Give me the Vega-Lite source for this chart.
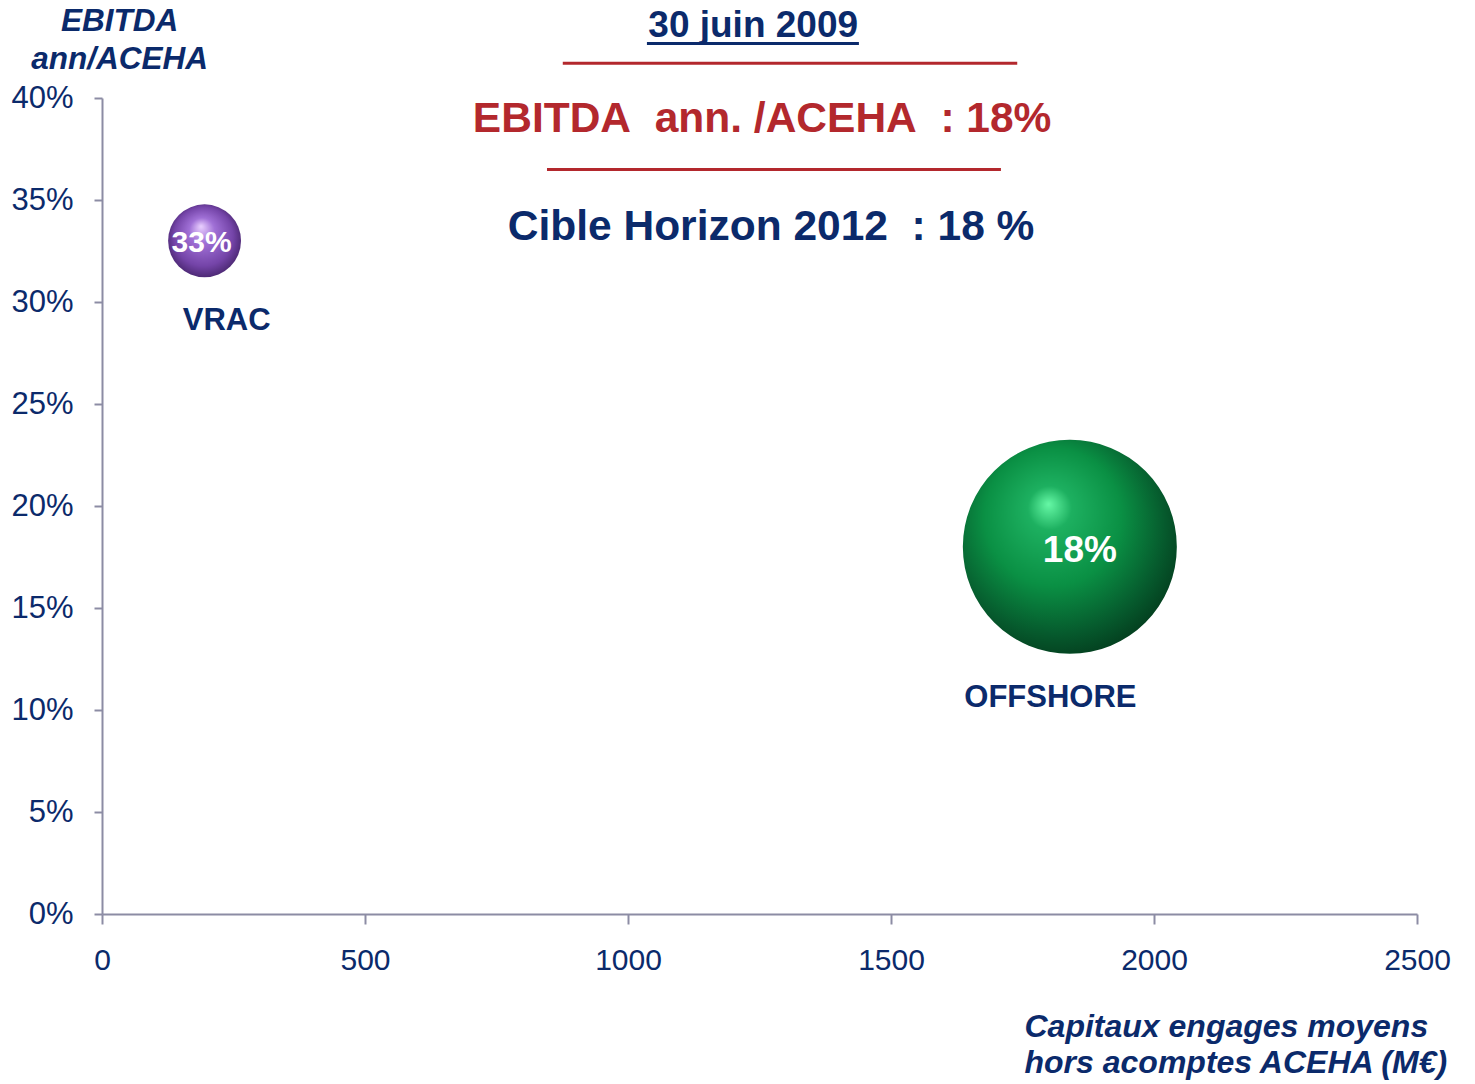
{
  "$schema": "https://vega.github.io/schema/vega-lite/v6.json",
  "width": 1315,
  "height": 816,
  "autosize": {"type": "none"},
  "padding": {"left": 102, "top": 98, "right": 58, "bottom": 170},
  "background": "white",
  "config": {"view": {"stroke": null}, "font": "Liberation Sans"},
  "datasets": {
    "bulles": [
      {"activite": "VRAC", "capitaux": 195, "ebitda": 0.33, "taille": 11.6, "etiquette": "33%"},
      {"activite": "OFFSHORE", "capitaux": 1840, "ebitda": 0.18, "taille": 100, "etiquette": "18%"}
    ],
    "noms": [
      {"texte": "VRAC", "capitaux": 237, "ebitda": 0.2863},
      {"texte": "OFFSHORE", "capitaux": 1803, "ebitda": 0.1015}
    ],
    "titres": [
      {"texte": "30 juin 2009", "capitaux": 1238, "ebitda": 0.4299, "role": "date"},
      {"texte": "EBITDA\u00a0 ann. /ACEHA\u00a0 : 18%", "capitaux": 1255, "ebitda": 0.3833, "role": "ebitda"},
      {"texte": "Cible Horizon 2012\u00a0 : 18 %", "capitaux": 1272, "ebitda": 0.3304, "role": "cible"}
    ],
    "traits": [
      {"capitaux": 1036, "capitaux_fin": 1439, "ebitda": 0.4267, "role": "souligne"},
      {"capitaux": 876, "capitaux_fin": 1740, "ebitda": 0.4170, "role": "rouge"},
      {"capitaux": 846, "capitaux_fin": 1709, "ebitda": 0.3650, "role": "rouge"}
    ]
  },
  "encoding": {
    "x": {
      "field": "capitaux", "type": "quantitative",
      "scale": {"domain": [0, 2500], "nice": false, "zero": true},
      "axis": {
        "values": [0, 500, 1000, 1500, 2000, 2500],
        "format": "d",
        "grid": false,
        "domainColor": "#8c8ca4", "domainWidth": 2,
        "tickColor": "#8c8ca4", "tickWidth": 2, "tickSize": 10,
        "labelFont": "Liberation Sans", "labelFontSize": 30, "labelColor": "#0b2a6b",
        "labelPadding": 21, "labelFlush": false,
        "title": ["Capitaux engages moyens", "hors acomptes ACEHA (M€)"],
        "titleFont": "Liberation Sans", "titleFontSize": 32, "titleFontStyle": "italic", "titleFontWeight": "bold",
        "titleColor": "#0b2a6b", "titleAlign": "left", "titleAnchor": null,
        "titleX": 922, "titleY": 122, "titleBaseline": "alphabetic", "titleLineHeight": 36
      }
    },
    "y": {
      "field": "ebitda", "type": "quantitative",
      "scale": {"domain": [0, 0.4], "nice": false, "zero": true},
      "axis": {
        "values": [0, 0.05, 0.1, 0.15, 0.2, 0.25, 0.3, 0.35, 0.4],
        "format": ".0%",
        "grid": false,
        "domainColor": "#8c8ca4", "domainWidth": 2,
        "tickColor": "#8c8ca4", "tickWidth": 2, "tickSize": 8,
        "labelFont": "Liberation Sans", "labelFontSize": 31, "labelColor": "#0b2a6b",
        "labelPadding": 21, "labelFlush": false,
        "title": ["EBITDA", "ann/ACEHA"],
        "titleFont": "Liberation Sans", "titleFontSize": 31.5, "titleFontStyle": "italic", "titleFontWeight": "bold",
        "titleColor": "#0b2a6b", "titleAngle": 0, "titleAlign": "center", "titleAnchor": null,
        "titleX": 17, "titleY": -68, "titleBaseline": "alphabetic", "titleLineHeight": 38
      }
    }
  },
  "layer": [
    {
      "data": {"name": "bulles"},
      "transform": [{"filter": "datum.activite === 'VRAC'"}],
      "mark": {
        "type": "point", "filled": true, "opacity": 1, "strokeWidth": 0,
        "fill": {
          "gradient": "radial",
          "x1": 0.45, "y1": 0.3, "r1": 0,
          "x2": 0.5, "y2": 0.5, "r2": 0.58,
          "stops": [
            {"offset": 0, "color": "#ead0ff"},
            {"offset": 0.3, "color": "#a070d6"},
            {"offset": 0.7, "color": "#7444a8"},
            {"offset": 1, "color": "#3a1c5c"}
          ]
        }
      },
      "encoding": {
        "size": {"field": "taille", "type": "quantitative", "scale": {"domain": [0, 100], "range": [0, 45796]}, "legend": null}
      }
    },
    {
      "data": {"name": "bulles"},
      "transform": [{"filter": "datum.activite === 'OFFSHORE'"}],
      "mark": {
        "type": "point", "filled": true, "opacity": 1, "strokeWidth": 0,
        "fill": {
          "gradient": "radial",
          "x1": 0.4, "y1": 0.3, "r1": 0,
          "x2": 0.44, "y2": 0.42, "r2": 0.64,
          "stops": [
            {"offset": 0, "color": "#66f8a6"},
            {"offset": 0.16, "color": "#1db060"},
            {"offset": 0.5, "color": "#0a9044"},
            {"offset": 0.8, "color": "#065a2d"},
            {"offset": 1, "color": "#03381b"}
          ]
        }
      },
      "encoding": {
        "size": {"field": "taille", "type": "quantitative", "scale": {"domain": [0, 100], "range": [0, 45796]}, "legend": null}
      }
    },
    {
      "data": {"name": "bulles"},
      "transform": [{"filter": "datum.activite === 'VRAC'"}],
      "mark": {"type": "text", "align": "center", "baseline": "middle", "fontSize": 30, "fontWeight": "bold", "color": "white", "dx": -3, "dy": 2},
      "encoding": {"text": {"field": "etiquette"}}
    },
    {
      "data": {"name": "bulles"},
      "transform": [{"filter": "datum.activite === 'OFFSHORE'"}],
      "mark": {"type": "text", "align": "center", "baseline": "middle", "fontSize": 37, "fontWeight": "bold", "color": "white", "dx": 10, "dy": 4},
      "encoding": {"text": {"field": "etiquette"}}
    },
    {
      "data": {"name": "noms"},
      "mark": {"type": "text", "align": "center", "baseline": "alphabetic", "fontSize": 31, "fontWeight": "bold", "color": "#0b2a6b"},
      "encoding": {"text": {"field": "texte"}}
    },
    {
      "data": {"name": "traits"},
      "mark": {"type": "rule", "strokeWidth": 3},
      "encoding": {
        "x2": {"field": "capitaux_fin"},
        "color": {"field": "role", "type": "nominal", "scale": {"domain": ["souligne", "rouge"], "range": ["#0b2a6b", "#b3282d"]}, "legend": null}
      }
    },
    {
      "data": {"name": "titres"},
      "transform": [{"filter": "datum.role === 'date'"}],
      "mark": {"type": "text", "align": "center", "baseline": "alphabetic", "fontWeight": "bold", "fontSize": 37, "color": "#0b2a6b"},
      "encoding": {"text": {"field": "texte"}}
    },
    {
      "data": {"name": "titres"},
      "transform": [{"filter": "datum.role !== 'date'"}],
      "mark": {"type": "text", "align": "center", "baseline": "alphabetic", "fontWeight": "bold", "fontSize": 42.5},
      "encoding": {
        "text": {"field": "texte"},
        "color": {"field": "role", "type": "nominal", "scale": {"domain": ["ebitda", "cible"], "range": ["#b3282d", "#0b2a6b"]}, "legend": null}
      }
    }
  ],
  "resolve": {"scale": {"color": "independent", "size": "independent"}}
}
